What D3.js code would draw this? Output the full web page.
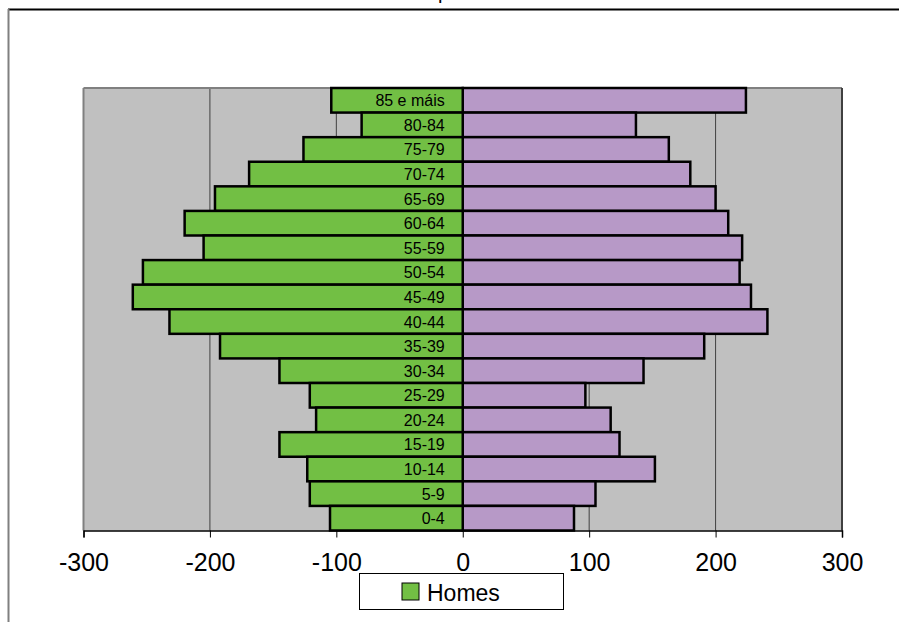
<!DOCTYPE html>
<html>
<head>
<meta charset="utf-8">
<script src="https://cdn.jsdelivr.net/npm/d3@7"></script>
<style>
  html, body { margin: 0; padding: 0; background: #fff; }
  svg { display: block; }
</style>
</head>
<body>
<svg id="chart" width="899" height="622"></svg>
<script>
const ageGroups = ["85 e máis","80-84","75-79","70-74","65-69","60-64","55-59","50-54","45-49","40-44","35-39","30-34","25-29","20-24","15-19","10-14","5-9","0-4"];
const homes = [104, 80, 126, 169, 196, 220, 205, 253, 261, 232, 192, 145, 121, 116, 145, 123, 121, 105];
const mulleres = [224, 137, 163, 180, 200, 210, 221, 219, 228, 241, 191, 143, 97, 117, 124, 152, 105, 88];
const xTicks = [-300, -200, -100, 0, 100, 200, 300];
const legendLabel = "Homes";

(function () {
const svg = d3.select("#chart");
const font = "'Liberation Sans', Arial, sans-serif";

// chart frame (partly off-canvas)
svg.append("line").attr("x1", 8).attr("x2", 899).attr("y1", 9.5).attr("y2", 9.5)
  .attr("stroke", "#000").attr("stroke-width", 2);
svg.append("line").attr("x1", 8.5).attr("x2", 8.5).attr("y1", 9).attr("y2", 622)
  .attr("stroke", "#808080").attr("stroke-width", 2);

// cut-off title (only its descender shows, as in the reference)
svg.append("text").attr("x", 438).attr("y", -1).attr("font-family", font)
  .attr("font-size", 20).attr("fill", "#000").text("p");

const pL = 83.5, pR = 842, pT = 88, pB = 530.5;
const x = d3.scaleLinear().domain([-300, 300]).range([pL, pR]);
const y = d3.scaleBand().domain(ageGroups).range([pT, pB]).padding(0);

// plot background
svg.append("rect").attr("x", pL).attr("y", pT).attr("width", pR - pL).attr("height", pB - pT)
  .attr("fill", "#c0c0c0");

// gridlines
svg.append("g").selectAll("line").data(xTicks.filter(d => d > -300 && d < 300)).join("line")
  .attr("x1", d => x(d)).attr("x2", d => x(d)).attr("y1", pT).attr("y2", pB)
  .attr("stroke", "#404040").attr("stroke-width", 1);

// plot border
svg.append("line").attr("x1", pL).attr("x2", pR).attr("y1", pT).attr("y2", pT)
  .attr("stroke", "#808080").attr("stroke-width", 2);
svg.append("line").attr("x1", pL).attr("x2", pL).attr("y1", pT).attr("y2", pB)
  .attr("stroke", "#808080").attr("stroke-width", 2);
svg.append("line").attr("x1", pR).attr("x2", pR).attr("y1", pT).attr("y2", pB)
  .attr("stroke", "#404040").attr("stroke-width", 2);

// bars
const bars = svg.append("g");
bars.selectAll("rect.m").data(ageGroups).join("rect").attr("class", "m")
  .attr("x", x(0)).attr("y", d => y(d))
  .attr("width", (d, i) => x(mulleres[i]) - x(0)).attr("height", y.bandwidth())
  .attr("fill", "#b799c7").attr("stroke", "#000").attr("stroke-width", 2.5);
bars.selectAll("rect.h").data(ageGroups).join("rect").attr("class", "h")
  .attr("x", (d, i) => x(-homes[i])).attr("y", d => y(d))
  .attr("width", (d, i) => x(0) - x(-homes[i])).attr("height", y.bandwidth())
  .attr("fill", "#72bf44").attr("stroke", "#000").attr("stroke-width", 2.5);

// category labels
svg.append("g").selectAll("text").data(ageGroups).join("text")
  .attr("x", x(0) - 18).attr("y", d => y(d) + y.bandwidth() / 2 + 6)
  .attr("text-anchor", "end").attr("font-family", font).attr("font-size", 16)
  .attr("fill", "#000").text(d => d);

// x axis
const axis = d3.axisBottom(x).tickValues(xTicks).tickSize(7).tickFormat(d => String(d));
const gx = svg.append("g").attr("transform", `translate(0,${pB})`).call(axis);
gx.select(".domain").attr("stroke", "#000").attr("stroke-width", 1.5);
gx.selectAll(".tick line").attr("stroke", "#000").attr("stroke-width", 1);
gx.selectAll(".tick text").attr("font-family", font).attr("font-size", 25).attr("fill", "#000")
  .attr("dy", "0.71em").attr("y", 23);

// legend
const lg = svg.append("g");
lg.append("rect").attr("x", 359.5).attr("y", 573.5).attr("width", 204).attr("height", 36)
  .attr("fill", "#fff").attr("stroke", "#000").attr("stroke-width", 1);
lg.append("rect").attr("x", 402).attr("y", 583).attr("width", 17).attr("height", 17)
  .attr("fill", "#72bf44").attr("stroke", "#000").attr("stroke-width", 1);
lg.append("text").attr("x", 427).attr("y", 600.5).attr("font-family", font).attr("font-size", 23)
  .attr("fill", "#000").text(legendLabel);
})();
</script>
</body>
</html>
